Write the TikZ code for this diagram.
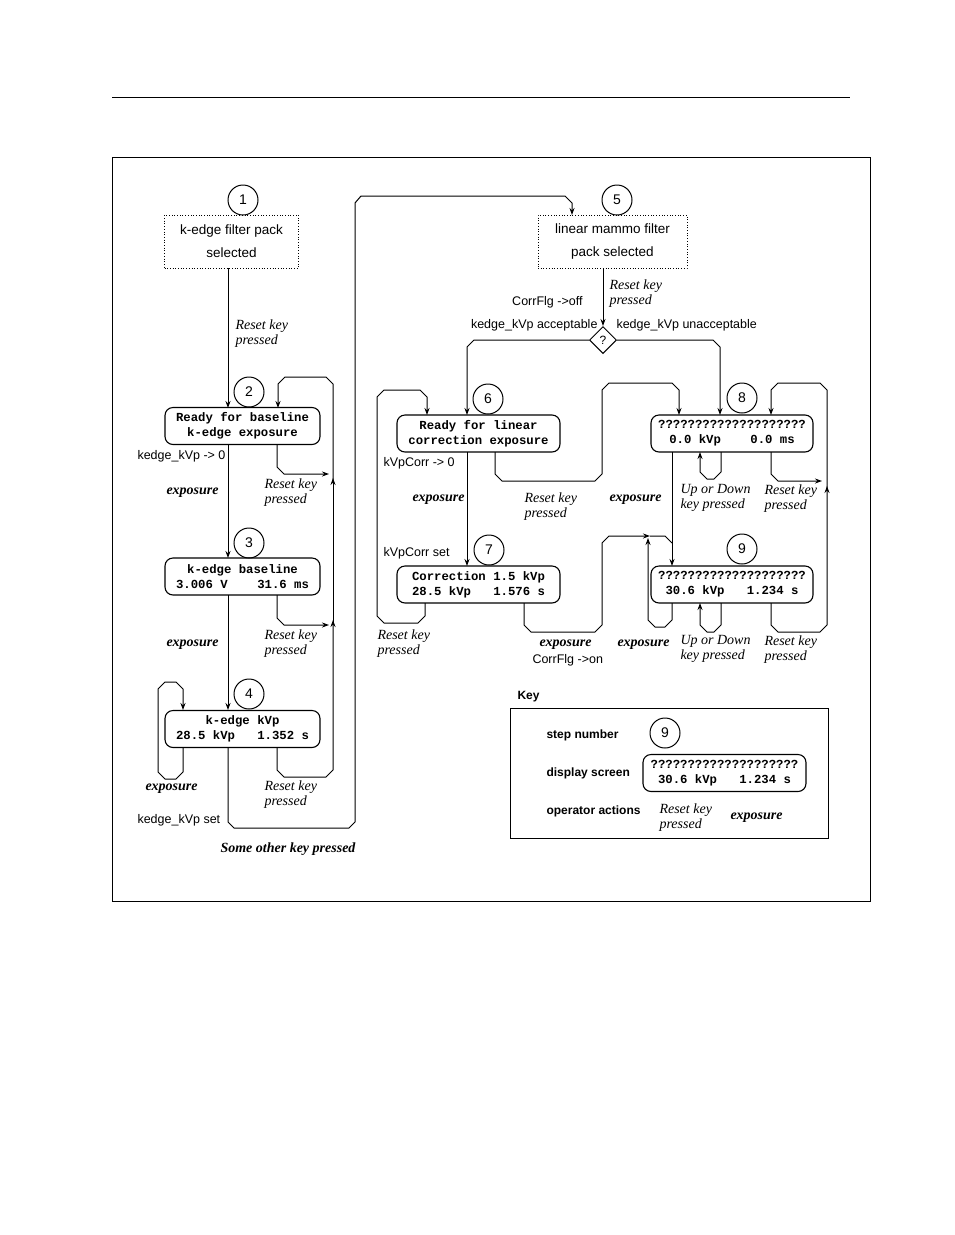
\documentclass[tikz,border=0pt]{standalone}
\usepackage{fontspec}
\setmainfont{Liberation Serif}
\newfontfamily\sansf{Liberation Sans}
\newfontfamily\monof{Liberation Mono}
\usetikzlibrary{arrows.meta,shapes.geometric}
\begin{document}
\begin{tikzpicture}[x=1pt,y=-1pt,line width=1pt,
  >={Stealth[length=7pt,width=5pt]},
  num/.style={circle,draw,minimum size=30pt,inner sep=0pt,font=\sansf\fontsize{14}{14}\selectfont},
  disp/.style={draw,rounded corners=8pt,line width=1.1pt,minimum width=155pt,minimum height=37pt,inner sep=0pt,align=center,font=\monof\bfseries\fontsize{12.3}{15}\selectfont},
  dots/.style={draw,dotted,line width=0.7pt,minimum width=134pt,minimum height=53pt,align=center,font=\sansf\fontsize{13.5}{23}\selectfont},
  act/.style={anchor=north west,align=left,inner sep=0pt,font=\itshape\fontsize{14}{15}\selectfont},
  exp/.style={anchor=west,inner sep=0pt,font=\bfseries\itshape\fontsize{14}{15}\selectfont},
  lab/.style={anchor=west,inner sep=0pt,font=\sansf\fontsize{12.5}{14}\selectfont},
  keyl/.style={anchor=west,inner sep=0pt,font=\sansf\bfseries\fontsize{12}{14}\selectfont}]
\useasboundingbox (0,0) rectangle (954,1235);
\draw[line width=0.8pt] (112,97) -- (850,97);
\draw[line width=0.8pt] (112,157) rectangle (870,901);

% nodes
\node[num] (c1) at (243,200) {1};
\node[dots] (b1) at (231.5,241.5) {k-edge filter pack\\selected};
\node[num] (c2) at (249,392) {2};
\node[disp] (b2) at (242.5,426) {Ready for baseline\\k-edge exposure};
\node[num] (c3) at (249,543) {3};
\node[disp] (b3) at (242.5,576.5) {k-edge baseline\\3.006 V~~~~31.6 ms};
\node[num] (c4) at (249,694) {4};
\node[disp] (b4) at (242.5,729) {k-edge kVp\\28.5 kVp~~~1.352 s};
\node[num] (c5) at (617,200) {5};
\node[dots,minimum width=149pt] (b5) at (612.5,241.5) {linear mammo filter\\pack selected};
\node[diamond,draw,minimum size=27pt,inner sep=0pt,font=\sansf\fontsize{12}{12}\selectfont] (q) at (603,340) {?};
\node[num] (c6) at (488,399) {6};
\node[disp,minimum width=163pt] (b6) at (478.5,433.5) {Ready for linear\\correction exposure};
\node[num] (c7) at (489,550) {7};
\node[disp,minimum width=163pt] (b7) at (478.5,584.5) {Correction 1.5 kVp\\28.5 kVp~~~1.576 s};
\node[num] (c8) at (742,398) {8};
\node[disp,minimum width=162pt] (b8) at (732,433.5) {????????????????????\\0.0 kVp~~~~0.0 ms};
\node[num] (c9) at (742,549) {9};
\node[disp,minimum width=162pt] (b9) at (732,584.5) {????????????????????\\30.6 kVp~~~1.234 s};

% left column
\draw[->] (228,268) -- (228,408);
\node[act] at (235,319) {Reset key\\pressed};
\draw[->] (228,444) -- (228,558);
\draw[->] (228,595) -- (228,710);
\node[lab] at (137,456) {kedge\_kVp -> 0};
\node[exp] at (166,493) {exposure};
\node[exp] at (166,645) {exposure};
\draw[->] (277,444) -- (277,467) -- (284,474) -- (329,474);
\draw[->] (277,595) -- (277,618) -- (284,625) -- (329,625);
\draw[->] (277,748) -- (277,770) -- (284,777) -- (326,777) -- (333,770) -- (333,620);
\draw[->] (333,625) -- (333,478);
\draw[->] (333,480) -- (333,384) -- (326,377) -- (285,377) -- (278,384) -- (278,408);
\node[act] at (264,478) {Reset key\\pressed};
\node[act] at (264,629) {Reset key\\pressed};
\node[act] at (264,780) {Reset key\\pressed};
\draw[->] (183,748) -- (183,772) -- (176,779) -- (165,779) -- (158,772) -- (158,689) -- (165,682) -- (176,682) -- (183,689) -- (183,710);
\node[exp] at (145,789) {exposure};
\node[lab] at (137,820) {kedge\_kVp set};
\draw[->] (228,748) -- (228,822) -- (234,828) -- (349,828) -- (355,822) -- (355,203) -- (361,196) -- (565,196) -- (572,203) -- (572,215);
\node[font=\bfseries\itshape\fontsize{14}{15}\selectfont] at (288,849) {Some other key pressed};

% right part
\draw[->] (603,268) -- (q.north);
\node[act] at (609,279) {Reset key\\pressed};
\node[lab,anchor=east] at (583,302) {CorrFlg ->off};
\node[lab,anchor=east] at (598,325) {kedge\_kVp acceptable};
\node[lab] at (616,325) {kedge\_kVp unacceptable};
\draw[->] (q.west) -- (474,340) -- (467,347) -- (467,415);
\draw[->] (q.east) -- (713,340) -- (720,347) -- (720,415);
\node[lab] at (383,463) {kVpCorr -> 0};
\node[lab] at (383,553) {kVpCorr set};
\draw[->] (467,452) -- (467,566);
\node[exp] at (412,500) {exposure};
\draw[->] (425,603) -- (425,616) -- (418,623) -- (384,623) -- (377,616) -- (377,397) -- (384,390) -- (420,390) -- (427,397) -- (427,415);
\node[act] at (377,629) {Reset key\\pressed};
\draw[->] (495,452) -- (495,474) -- (502,481) -- (595,481) -- (602,474) -- (602,390) -- (609,383) -- (672,383) -- (679,390) -- (679,415);
\node[act] at (524,492) {Reset key\\pressed};
\draw[->] (524,603) -- (524,625) -- (531,632) -- (595,632) -- (602,625) -- (602,543) -- (609,536) -- (650,536);
\draw (650,536) -- (665,536) -- (672,543);
\draw[->] (672,452) -- (672,566);
\draw[->] (672,603) -- (672,620) -- (665,627) -- (655,627) -- (648,620) -- (648,538);
\node[exp] at (539,645) {exposure};
\node[lab] at (532,660) {CorrFlg ->on};
\node[exp] at (617,645) {exposure};
\node[exp] at (609,500) {exposure};
\draw[->] (721,452) -- (721,472) -- (714,479) -- (707,479) -- (700,472) -- (700,452);
\draw[->] (721,603) -- (721,625) -- (714,632) -- (707,632) -- (700,625) -- (700,603);
\node[act] at (680,484) {Up or Down\\key pressed};
\node[act] at (680,635) {Up or Down\\key pressed};
\draw[->] (771,452) -- (771,474) -- (778,481) -- (822,481);
\draw[->] (771,603) -- (771,625) -- (778,632) -- (820,632) -- (827,625) -- (827,486);
\draw[->] (827,490) -- (827,390) -- (820,383) -- (778,383) -- (771,390) -- (771,415);
\node[act] at (764,484) {Reset key\\pressed};
\node[act] at (764,635) {Reset key\\pressed};

% key
\node[keyl] (kt) at (517,697) {Key};
\draw[line width=0.9pt] (510,708) rectangle (828,838);
\node[keyl] (k1) at (546,735) {step number};
\node[num] (kc) at (665,733) {9};
\node[keyl] (k2) at (546,773) {display screen};
\node[disp,minimum width=163pt] (kb) at (724.5,773) {????????????????????\\30.6 kVp~~~1.234 s};
\node[keyl] (k3) at (546,811) {operator actions};
\node[act] (ka) at (659,803) {Reset key\\pressed};
\node[exp] (ke) at (730,818) {exposure};
\end{tikzpicture}
\end{document}
